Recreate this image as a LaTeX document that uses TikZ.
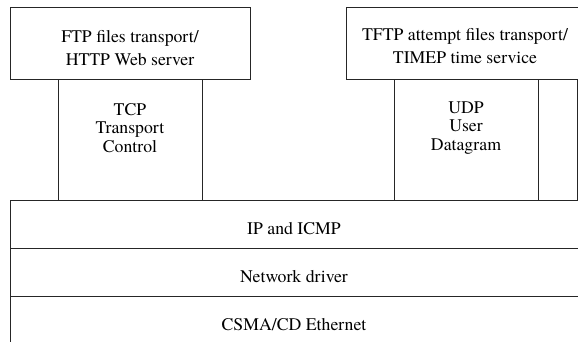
\documentclass[tikz,border=0pt]{standalone}
\usepackage{fontspec}
\IfFontExistsTF{texgyretermes-regular.otf}
  {\newfontfamily\layerfont{texgyretermes-regular.otf}}
  {\newfontfamily\layerfont{DejaVu Serif}}
\tikzstyle{layerbox}=[rectangle, draw=black!85, line width=0.75pt, inner sep=0pt]
\tikzstyle{toptext}=[align=center, inner sep=0pt, font=\layerfont\fontsize{13.3}{17}\selectfont]
\tikzstyle{midtext}=[align=center, inner sep=0pt, font=\layerfont\fontsize{13.3}{14}\selectfont]
\tikzstyle{rowtext}=[inner sep=0pt, font=\layerfont\fontsize{13.3}{16}\selectfont]

\begin{document}
\begin{tikzpicture}[x=0.75pt,y=-0.75pt]
	\useasboundingbox (0,0) rectangle (578,342);
	\clip (0,0) rectangle (578,342);

	%application boxes
	\node [style=layerbox, minimum width=180pt, minimum height=54pt] (ftp) at (130,44) {};
	\node [style=layerbox, minimum width=180pt, minimum height=54pt] (tftp) at (466,44) {};

	%transport boxes
	\node [style=layerbox, minimum width=108pt, minimum height=90pt] (tcp) at (130,140) {};
	\node [style=layerbox, minimum width=108pt, minimum height=90pt] (udp) at (466,140) {};
	\node [style=layerbox, minimum width=108pt, minimum height=90pt] (next) at (649,140) {};

	%lower layers
	\node [style=layerbox, minimum width=442.5pt, minimum height=36pt] (ip) at (305,224) {};
	\node [style=layerbox, minimum width=442.5pt, minimum height=36pt] (driver) at (305,272) {};
	\node [style=layerbox, minimum width=442.5pt, minimum height=36pt] (ether) at (305,320) {};

	%texts
	\node [style=toptext] (ftptext) at (130,48) {FTP files transport/\\HTTP Web server};
	\node [style=toptext] (tftptext) at (465,46) {TFTP attempt files transport/\\TIMEP time service};
	\node [style=midtext] (tcptext) at (130,128) {TCP\\Transport\\Control};
	\node [style=midtext] (udptext) at (466,128) {UDP\\User\\Datagram};
	\node [style=rowtext] (iptext) at (294,228.5) {IP and ICMP};
	\node [style=rowtext] (drivertext) at (294,276.5) {Network driver};
	\node [style=rowtext] (ethertext) at (294,325) {CSMA/CD Ethernet};
\end{tikzpicture}
\end{document}
